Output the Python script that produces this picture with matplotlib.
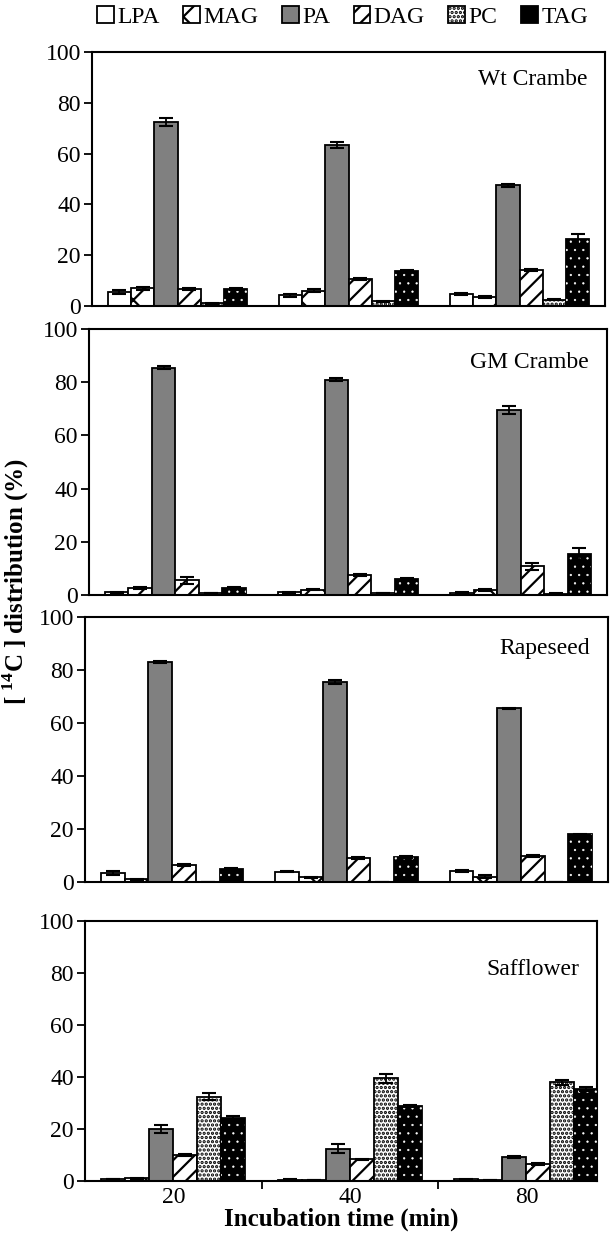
import numpy as np
import matplotlib
matplotlib.use('Agg')
import matplotlib.pyplot as plt

# Incubation times and lipid classes
times = ['20', '40', '80']
lipids = ['LPA', 'MAG', 'PA', 'DAG', 'PC', 'TAG']
panels = ['Wt Crambe', 'GM Crambe', 'Rapeseed', 'Safflower']

# [14C] distribution (%), rows = lipid class, cols = 20/40/80 min
wt_crambe = [[5.5, 4.3, 4.8],
             [7.0, 6.0, 3.7],
             [72.5, 63.5, 47.5],
             [6.7, 10.8, 14.3],
             [1.0, 1.8, 2.5],
             [6.6, 13.6, 26.5]]
wt_crambe_err = [[0.7, 0.6, 0.4],
                 [0.6, 0.5, 0.4],
                 [1.5, 1.2, 0.7],
                 [0.3, 0.4, 0.4],
                 [0.2, 0.3, 0.3],
                 [0.3, 0.4, 2.0]]

gm_crambe = [[1.0, 1.0, 0.8],
             [2.7, 2.0, 1.8],
             [85.5, 81.0, 69.5],
             [5.5, 7.6, 10.8],
             [0.8, 0.7, 0.5],
             [2.8, 6.0, 15.3]]
gm_crambe_err = [[0.3, 0.2, 0.2],
                 [0.3, 0.3, 0.3],
                 [0.6, 0.5, 1.5],
                 [1.2, 0.4, 1.3],
                 [0.1, 0.1, 0.1],
                 [0.3, 0.3, 2.3]]

rapeseed = [[3.3, 3.8, 4.2],
            [1.0, 1.7, 2.0],
            [83.0, 75.5, 65.5],
            [6.5, 9.0, 9.8],
            [0.0, 0.0, 0.0],
            [5.0, 9.5, 18.0]]
rapeseed_err = [[0.8, 0.2, 0.3],
                [0.2, 0.3, 0.6],
                [0.4, 0.8, 0.3],
                [0.3, 0.3, 0.3],
                [0.0, 0.0, 0.0],
                [0.3, 0.4, 0.3]]

safflower = [[0.8, 0.5, 0.6],
             [1.0, 0.2, 0.2],
             [20.0, 12.5, 9.3],
             [10.0, 8.3, 6.5],
             [32.5, 39.5, 38.0],
             [24.3, 29.0, 35.5]]
safflower_err = [[0.1, 0.1, 0.1],
                 [0.2, 0.0, 0.0],
                 [1.6, 1.8, 0.4],
                 [0.4, 0.3, 0.3],
                 [1.5, 1.8, 1.0],
                 [0.8, 0.4, 0.7]]

all_values = [wt_crambe, gm_crambe, rapeseed, safflower]
all_errors = [wt_crambe_err, gm_crambe_err, rapeseed_err, safflower_err]

# Styles for each lipid class: (facecolor, hatch)
styles = [('white', None),
          ('white', 'x'),
          ('#808080', None),
          ('white', '//'),
          ('white', '....'),
          ('black', None)]

plt.rcParams['font.family'] = 'Liberation Serif'
plt.rcParams['mathtext.fontset'] = 'custom'
plt.rcParams['mathtext.rm'] = 'Liberation Serif'
plt.rcParams['mathtext.bf'] = 'Liberation Serif:bold'
plt.rcParams['hatch.linewidth'] = 1.6

W, H = 615, 1240
fig = plt.figure(figsize=(W / 100., H / 100.), dpi=100)

# Panel boxes in pixels: left, right, top, bottom
boxes = [(92, 605, 52, 306),
         (89, 607, 329, 595),
         (85, 608, 617, 882),
         (85, 597, 921, 1181)]
xmax = [2.5, 2.5, 2.5, 2.4]
label_y = [0.89, 0.875, 0.88, 0.815]

x = np.arange(len(times))
w = 0.136
fs = 17

handles = []
for p, (name, vals, errs) in enumerate(zip(panels, all_values, all_errors)):
    l, r, t, b = boxes[p]
    ax = fig.add_axes([l / W, 1 - b / H, (r - l) / W, (b - t) / H])
    for i, lip in enumerate(lipids):
        fc, hatch = styles[i]
        pos = x + (i - 2.5) * w
        bars = ax.bar(pos, vals[i], w, color=fc, edgecolor='black',
                      hatch=hatch, linewidth=1.3, label=lip, zorder=2)
        if lip == 'TAG':
            # small white dots on black
            with plt.rc_context({'hatch.linewidth': 0.4}):
                ax.bar(pos, vals[i], w, color='none', edgecolor='white',
                       hatch='..', linewidth=0, zorder=3)
        ax.errorbar(pos, vals[i], yerr=errs[i], fmt='none', ecolor='black',
                    elinewidth=1.3, capsize=5, capthick=1.5, zorder=4)
        if p == 0:
            handles.append(bars)
    ax.set_ylim(0, 100)
    ax.set_xlim(-0.5, xmax[p])
    ax.set_yticks([0, 20, 40, 60, 80, 100])
    ax.tick_params(axis='y', direction='out', length=6, width=1.3,
                   labelsize=fs, pad=2)
    for s in ax.spines.values():
        s.set_linewidth(1.5)
    ax.text(0.965, label_y[p], name, transform=ax.transAxes,
            ha='right', va='center', fontsize=fs)
    if p == 3:
        ax.set_xticks(x)
        ax.set_xticklabels(times)
        ax.set_xticks([0.5, 1.5], minor=True)
        ax.tick_params(axis='x', which='major', length=0, labelsize=fs, pad=4)
        ax.tick_params(axis='x', which='minor', direction='out',
                       length=6, width=1.3)
        ax.set_xlabel('Incubation time (min)', fontsize=18,
                      fontweight='bold', labelpad=0)
    else:
        ax.set_xticks([])

fig.text(0.026, 0.531, r'[ $^{\mathbf{14}}$C ] distribution (%)', rotation=90,
         ha='center', va='center', fontsize=18, fontweight='bold')

fig.legend(handles=handles, labels=lipids, loc='upper center',
           bbox_to_anchor=(0.557, 1.012), ncol=6, frameon=False,
           fontsize=fs, handlelength=0.7, handleheight=0.7,
           handletextpad=0.15, columnspacing=1.0)

plt.savefig('out.png', dpi=100)
